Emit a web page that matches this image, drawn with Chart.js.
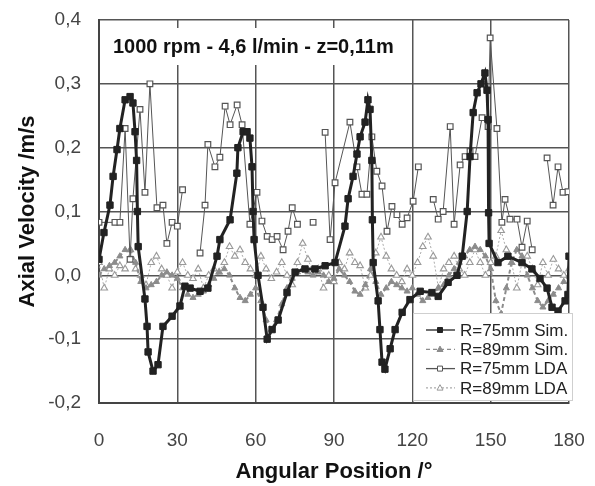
<!DOCTYPE html>
<html>
<head>
<meta charset="utf-8">
<script src="https://cdn.jsdelivr.net/npm/chart.js@4.4.1/dist/chart.umd.min.js"></script>
<style>
  html, body { margin: 0; padding: 0; background: #fff; }
</style>
</head>
<body>
<canvas id="chart" width="595" height="486"></canvas>
<script>
// --- data (angle in degrees, axial velocity in m/s) ---
const PLOT_TITLE = '1000 rpm - 4,6 l/min - z=0,11m';
const SERIES_LABELS = ['R=75mm Sim.', 'R=89mm Sim.', 'R=75mm LDA', 'R=89mm LDA'];
const X_TICKS = [0, 30, 60, 90, 120, 150, 180];
const Y_TICKS = [-0.2, -0.1, 0.0, 0.1, 0.2, 0.3, 0.4];

const sim75Angle = [0, 1.9, 4.2, 5.4, 6.9, 8.0, 10.0, 11.9, 13.0, 13.8, 14.4, 14.7, 15.0, 17.6, 18.4, 18.8, 20.7, 22.6, 24.5, 28.0,
  31.0, 32.9, 34.9, 38.7, 41.7, 45.2, 46.3, 50.2, 52.8, 53.2, 55.2, 56.7, 57.8, 58.6, 59.0, 59.4, 60.9, 62.8, 64.4, 66.3,
  68.6, 72.0, 75.1, 78.9, 82.7, 86.6, 90.4, 94.2, 95.4, 97.3, 98.8, 100.0, 101.9, 103.0, 103.8, 104.5, 104.7, 105.0, 106.9, 107.6,
  108.4, 109.5, 111.5, 113.4, 116.1, 119.1, 123.0, 127.5, 129.9, 133.7, 137.1, 139.1, 141.0, 142.1, 143.3, 144.8, 146.3, 147.8, 148.6, 149.0,
  149.2, 149.4, 152.8, 156.6, 162.0, 165.8, 168.9, 171.6, 173.5, 175.8, 178.5, 179.6, 180.0];
const sim75Vel = [0.025, 0.067, 0.11, 0.155, 0.197, 0.23, 0.275, 0.28, 0.27, 0.225, 0.18, 0.10, 0.045, -0.037, -0.08, -0.12, -0.15, -0.14, -0.08, -0.064,
  -0.048, -0.017, -0.02, -0.025, -0.02, 0.03, 0.056, 0.087, 0.16, 0.20, 0.225, 0.225, 0.215, 0.17, 0.10, 0.056, 0.0, -0.05, -0.10, -0.085,
  -0.07, -0.027, 0.005, 0.01, 0.01, 0.015, 0.02, 0.077, 0.12, 0.155, 0.19, 0.217, 0.24, 0.275, 0.26, 0.18, 0.087, 0.02, -0.04, -0.085,
  -0.136, -0.147, -0.115, -0.085, -0.058, -0.038, -0.025, -0.027, -0.033, -0.011, 0.0, 0.03, 0.10, 0.186, 0.255, 0.286, 0.30, 0.317, 0.29, 0.244,
  0.098, 0.05, 0.02, 0.03, 0.02, 0.01, -0.005, -0.02, -0.05, -0.056, -0.04, -0.03, 0.03];

const sim89Angle = [0, 2, 4, 6, 8, 10, 12, 14, 16, 18, 20, 22, 24, 26, 28, 30, 32, 34, 36, 38, 40, 42, 44, 46, 48, 50,
  52, 54, 56, 58, 60, 62, 64, 66, 68, 70, 72, 74, 76, 78, 80, 82, 84, 86, 88, 90, 92, 94, 96, 98, 100,
  102, 104, 106, 108, 110, 112, 114, 116, 118, 120, 122, 124, 126, 128, 130, 132, 134, 136, 138, 140, 142, 144, 146, 148, 150,
  152, 154, 156, 158, 160, 162, 164, 166, 168, 170, 172, 174, 176, 178, 180];
const sim89Vel = [0.0, 0.01, 0.015, 0.02, 0.03, 0.04, 0.04, 0.02, -0.01, -0.02, -0.015, -0.01, 0.0, 0.005, 0.0, -0.005, -0.02, -0.03, -0.035, -0.03, -0.025, -0.015, -0.005, 0.005, 0.01, 0.0,
  -0.02, -0.035, -0.04, -0.03, -0.02, -0.04, -0.07, -0.085, -0.07, -0.045, -0.02, -0.005, 0.005, 0.01, 0.005, 0.0, 0.005, 0.0, -0.01, -0.005, 0.01, 0.0, -0.01, -0.025, -0.03,
  -0.015, 0.01, -0.01, -0.03, -0.02, -0.01, -0.015, -0.02, -0.025, -0.02, -0.03, -0.04, -0.035, -0.03, -0.02, -0.015, 0.0, 0.01, 0.02, 0.03, 0.04, 0.045, 0.04, 0.03, 0.01,
  -0.04, -0.06, -0.02, 0.02, 0.04, 0.03, 0.0, -0.02, -0.04, -0.05, -0.04, -0.03, -0.02, -0.01, 0.0];

// null = no measurement (line is broken there)
const lda75Angle = [0, 6.1, 8.0, 10.0, 11.9, 13.0, 15.7, 17.6, 19.5, 22.2, 24.5, 26.0, 28.0, 30.0, 32.0, 35.0, 38.7, 40.6, 41.7, 44.4,
  46.3, 48.3, 50.2, 52.9, 54.8, 57.8, 60.5, 62.4, 64.4, 66.3, 68.2, 70.5, 72.4, 74.0, 76.0, 79.0, 82.0, 84.0, 86.6, 88.5,
  90.4, 96.1, 98.8, 100.7, 102.6, 104.5, 106.4, 108.4, 110.3, 112.2, 114.1, 116.1, 118.0, 120.3, 122.3, 125.0, 128.0, 129.9, 131.8, 134.5,
  136.0, 138.3, 140.2, 142.1, 144.0, 146.7, 149.0, 149.8, 152.4, 154.3, 155.5, 157.4, 160.1, 162.0, 164.0, 165.9, 168.5, 171.6, 173.9, 175.8,
  177.7, 179.6];
const lda75Vel = [0.083, 0.083, 0.083, 0.23, 0.025, 0.12, 0.26, 0.13, 0.30, 0.106, 0.11, 0.05, 0.083, 0.077, 0.134, null, 0.035, 0.11, 0.205, 0.17,
  0.185, 0.265, 0.236, 0.267, 0.236, 0.08, 0.13, 0.085, 0.061, 0.056, 0.061, 0.04, 0.069, 0.106, 0.08, null, 0.083, null, 0.224, 0.056,
  0.145, 0.24, 0.17, 0.127, 0.127, 0.217, 0.163, 0.14, 0.069, 0.108, 0.095, 0.08, 0.09, 0.116, 0.17, null, 0.119, 0.088, 0.10, 0.233,
  0.08, 0.173, 0.186, 0.194, 0.186, 0.247, 0.233, 0.372, 0.23, 0.083, 0.119, 0.088, 0.088, 0.044, 0.085, 0.04, null, 0.184, 0.11, 0.17,
  0.13, 0.131];

const lda89Angle = sim89Angle;
const lda89Vel = [0.02, -0.02, 0.01, 0.0, 0.015, 0.01, 0.04, 0.01, 0.0, -0.015, 0.02, 0.03, 0.01, 0.0, -0.02, 0.005, 0.02, 0.0, -0.005, 0.01, -0.02, 0.0, 0.01, 0.005, 0.02, 0.045,
  0.03, 0.04, 0.02, 0.01, 0.0, 0.03, 0.01, -0.005, 0.005, 0.02, 0.0, -0.015, 0.02, 0.05, 0.025, 0.005, 0.01, -0.02, 0.0, -0.01, 0.02, 0.01, 0.035, 0.02, 0.015,
  -0.02, 0.0, 0.035, 0.06, 0.03, 0.01, 0.0, -0.01, 0.01, 0.0, 0.02, 0.045, 0.06, 0.03, -0.02, 0.01, 0.02, 0.03, 0.01, 0.0, 0.02, 0.04, 0.02, 0.0, 0.02,
  0.03, 0.07, 0.04, 0.02, -0.02, 0.02, 0.03, 0.01, -0.015, 0.02, 0.0, 0.025, 0.01, 0.0, 0.01];

// --- chart ---
const FONT = "'Liberation Sans', Arial, sans-serif";
Chart.defaults.font.family = FONT;

function toPoints(xs, ys) {
    return xs.map((x, i) => ({ x: x, y: ys[i] }));
}

function commaLabel(v) {
    const r = Math.round(v * 10) / 10;
    return (r === 0 ? '0.0' : r.toFixed(1)).replace('.', ',');
}

// white box behind the condition text, over the grid
const titleBox = {
    id: 'titleBox',
    beforeDatasetsDraw(chart) {
        const ctx = chart.ctx;
        ctx.save();
        ctx.fillStyle = '#fff';
        ctx.fillRect(101, 28, 306, 37);
        ctx.fillStyle = '#111';
        ctx.font = 'bold 20px ' + FONT;
        ctx.textBaseline = 'middle';
        ctx.fillText(PLOT_TITLE, 113, 47);
        ctx.restore();
    }
};

function drawMarker(ctx, style, x, y, fill, stroke) {
    ctx.beginPath();
    if (style === 'rect') {
        ctx.rect(x - 2.5, y - 2.5, 5, 5);
    } else {
        ctx.moveTo(x, y - 3.2);
        ctx.lineTo(x + 3, y + 2.2);
        ctx.lineTo(x - 3, y + 2.2);
        ctx.closePath();
    }
    ctx.fillStyle = fill;
    ctx.fill();
    ctx.lineWidth = 1;
    ctx.strokeStyle = stroke;
    ctx.stroke();
}

// legend box in the lower right corner of the plot
const boxLegend = {
    id: 'boxLegend',
    afterDatasetsDraw(chart) {
        const ctx = chart.ctx;
        ctx.save();
        ctx.fillStyle = '#fff';
        ctx.fillRect(413, 313, 160, 88);
        ctx.strokeStyle = '#cfcfcf';
        ctx.lineWidth = 1;
        ctx.strokeRect(413.5, 313.5, 159, 87);
        chart.data.datasets.forEach((ds, i) => {
            const y = 330 + i * 19.3;
            ctx.setLineDash(ds.borderDash || []);
            ctx.strokeStyle = ds.borderColor;
            ctx.lineWidth = 1.3;
            ctx.beginPath();
            ctx.moveTo(426, y);
            ctx.lineTo(455, y);
            ctx.stroke();
            ctx.setLineDash([]);
            drawMarker(ctx, ds.pointStyle, 440, y, ds.pointBackgroundColor, ds.pointBorderColor);
            ctx.fillStyle = '#222';
            ctx.font = '17px ' + FONT;
            ctx.textBaseline = 'middle';
            ctx.fillText(ds.label, 460, y + 1);
        });
        ctx.restore();
    }
};

const chart = new Chart(document.getElementById('chart'), {
    type: 'scatter',
    data: {
        datasets: [
            {
                label: SERIES_LABELS[0], data: toPoints(sim75Angle, sim75Vel), showLine: true, order: 0,
                borderColor: '#222', borderWidth: 3, pointStyle: 'rect', pointRadius: 4.5,
                pointBackgroundColor: '#222', pointBorderColor: '#222', pointBorderWidth: 1
            },
            {
                label: SERIES_LABELS[1], data: toPoints(sim89Angle, sim89Vel), showLine: true, order: 2,
                borderColor: '#8c8c8c', borderWidth: 2, borderDash: [4, 3], pointStyle: 'triangle', pointRadius: 3.5,
                pointBackgroundColor: '#8c8c8c', pointBorderColor: '#8c8c8c', pointBorderWidth: 1
            },
            {
                label: SERIES_LABELS[2], data: toPoints(lda75Angle, lda75Vel), showLine: true, order: 1, spanGaps: false,
                borderColor: '#555', borderWidth: 1, pointStyle: 'rect', pointRadius: 4,
                pointBackgroundColor: '#fff', pointBorderColor: '#555', pointBorderWidth: 1.2
            },
            {
                label: SERIES_LABELS[3], data: toPoints(lda89Angle, lda89Vel), showLine: true, order: 3,
                borderColor: '#aaa', borderWidth: 1, borderDash: [2, 2], pointStyle: 'triangle', pointRadius: 3.8,
                pointBackgroundColor: '#fff', pointBorderColor: '#999', pointBorderWidth: 1.1
            }
        ]
    },
    options: {
        responsive: false,
        animation: false,
        layout: { padding: { top: 20, right: 26, left: 0, bottom: 0 } },
        plugins: { legend: { display: false }, tooltip: { enabled: false } },
        scales: {
            x: {
                type: 'linear', min: 0, max: 180,
                afterBuildTicks: s => { s.ticks = X_TICKS.map(v => ({ value: v })); },
                afterFit: s => { s.height = 83; s.paddingLeft = 0; s.paddingRight = 0; },
                ticks: { color: '#444', font: { size: 19 }, padding: 26, maxRotation: 0 },
                grid: { color: '#555', lineWidth: 1.5, drawTicks: false },
                border: { color: '#444', width: 2 },
                title: { display: true, text: 'Angular Position /°', color: '#111', font: { size: 22, weight: 'bold' }, padding: { top: 0, bottom: 1 } }
            },
            y: {
                type: 'linear', min: -0.2, max: 0.4,
                afterBuildTicks: s => { s.ticks = Y_TICKS.map(v => ({ value: v })); },
                afterFit: s => { s.width = 99; s.paddingTop = 0; s.paddingBottom = 0; },
                ticks: { color: '#444', font: { size: 19 }, padding: 18, callback: v => commaLabel(v) },
                grid: { color: '#555', lineWidth: 1.5, drawTicks: false },
                border: { color: '#444', width: 2 },
                title: { display: true, text: 'Axial Velocity /m/s', color: '#111', font: { size: 22, weight: 'bold' }, padding: { top: 15, bottom: 0 } }
            }
        }
    },
    plugins: [titleBox, boxLegend]
});
</script>
</body>
</html>
